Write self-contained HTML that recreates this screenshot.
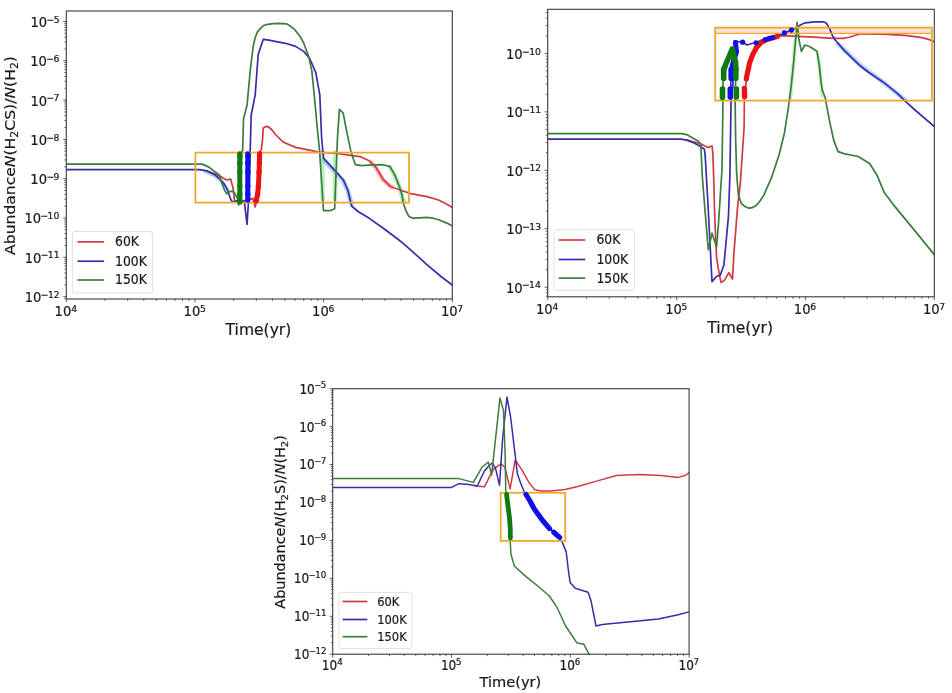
<!DOCTYPE html><html><head><meta charset="utf-8"><style>html,body{margin:0;padding:0;background:#fff;width:952px;height:693px;overflow:hidden}text{stroke:#1a1a1a;stroke-width:0.22px}</style></head><body><svg width="952" height="693" viewBox="0 0 952 693" style="display:block;filter:blur(0.35px)">
<g font-family="'DejaVu Sans','Liberation Sans',sans-serif">
<rect width="952" height="693" fill="#fff"/>
<clipPath id="cp1"><rect x="66.3" y="11.0" width="386.0" height="288.0"/></clipPath>
<clipPath id="cp2"><rect x="547.7" y="9.3" width="386.5999999999999" height="287.5"/></clipPath>
<clipPath id="cp3"><rect x="332.7" y="388.7" width="356.40000000000003" height="265.50000000000006"/></clipPath>
<g clip-path="url(#cp1)">
<polyline points="205.0,171.5 214.8,175.5 222.0,181.5 227.5,190.0" fill="none" stroke="#5aa0ff" stroke-width="4" stroke-opacity="0.45" stroke-linejoin="round" stroke-linecap="round"/>
<polyline points="323.5,160.0 333.8,170.5 343.2,180.5 347.8,191.0 351.6,204.0" fill="none" stroke="#5aa0ff" stroke-width="4.5" stroke-opacity="0.5" stroke-linejoin="round" stroke-linecap="round"/>
<polyline points="322.5,152.0 322.5,200.0" fill="none" stroke="#6ee06e" stroke-width="4.5" stroke-opacity="0.45" stroke-linejoin="round" stroke-linecap="round"/>
<polyline points="335.1,152.0 335.1,200.0" fill="none" stroke="#6ee06e" stroke-width="4.5" stroke-opacity="0.45" stroke-linejoin="round" stroke-linecap="round"/>
<polyline points="371.0,162.0 376.2,168.5 383.1,180.0 392.0,187.5" fill="none" stroke="#ff7070" stroke-width="4.5" stroke-opacity="0.45" stroke-linejoin="round" stroke-linecap="round"/>
<polyline points="390.0,167.0 394.6,175.0 399.3,186.5 403.5,202.0" fill="none" stroke="#6ee06e" stroke-width="4.5" stroke-opacity="0.5" stroke-linejoin="round" stroke-linecap="round"/>
<polyline points="206.90,170.90 214.80,174.00 219.60,176.00 226.70,180.00 230.70,179.20 233.10,188.30 234.30,199.40 235.50,201.80 240.00,202.00 246.00,201.00 252.80,198.40 255.10,206.90 257.30,199.00 258.50,175.00 259.50,152.00 261.30,150.00 262.50,140.00 263.30,128.00 266.00,126.40 268.50,126.90 272.00,130.00 275.40,134.50 283.50,142.30 295.60,147.40 305.70,149.40 318.80,152.20 337.50,153.50 350.70,155.30 360.00,156.60 369.20,160.80 376.20,167.70 383.10,179.30 390.00,186.20 399.30,189.70 410.80,193.60 427.00,196.60 438.50,200.00 445.50,203.50 452.40,207.40" fill="none" stroke="#d03a40" stroke-width="1.7" stroke-linejoin="round" stroke-linecap="round" />
<polyline points="66.30,169.60 199.80,169.70 206.90,170.90 214.80,174.80 219.60,178.80 224.40,184.40 227.50,189.90 229.90,197.10 231.50,201.00 234.70,201.80 237.10,200.60 240.00,200.50 244.30,201.00 247.00,224.50 248.90,196.00 249.50,175.00 250.20,150.00 251.20,115.00 255.20,94.80 258.20,54.40 263.30,39.30 267.30,39.90 285.50,43.30 295.60,46.40 303.70,51.40 309.70,58.50 315.80,72.60 319.80,94.80 321.60,137.50 323.50,158.20 333.80,169.40 343.20,179.70 347.80,190.00 351.60,206.00 358.00,211.50 368.90,218.10 383.30,228.20 397.70,239.00 404.90,244.80 412.20,251.30 426.60,264.30 441.00,276.50 452.60,285.20" fill="none" stroke="#3a2aac" stroke-width="1.7" stroke-linejoin="round" stroke-linecap="round" />
<polyline points="66.30,164.10 202.10,164.10 208.50,166.90 214.80,171.70 219.60,175.20 221.20,181.20 224.40,189.90 226.70,193.90 229.90,191.50 232.30,191.10 234.70,193.10 237.90,199.40 238.50,205.00 240.00,200.00 241.70,152.00 242.70,150.00 243.50,119.10 247.10,105.00 250.20,70.60 253.20,46.40 255.30,37.30 257.40,32.10 259.50,29.40 263.10,25.80 267.30,24.40 273.60,23.70 278.90,23.40 286.80,23.90 289.90,25.80 294.60,29.40 300.00,36.30 303.70,43.00 308.70,56.50 311.80,70.60 314.80,100.90 316.90,124.40 319.50,150.00 321.50,180.00 323.50,210.70 330.00,210.70 334.70,208.80 335.60,184.40 337.50,137.50 339.40,109.40 343.20,113.10 346.00,128.10 350.70,150.70 355.30,164.70 361.90,165.70 371.50,164.90 383.10,164.70 390.00,166.60 394.60,174.60 399.30,186.20 402.00,195.00 403.50,203.70 406.00,211.00 409.00,216.50 412.20,218.10 420.00,217.80 426.60,217.40 433.00,218.20 438.10,219.50 446.80,223.10 452.60,226.00" fill="none" stroke="#3a7d3e" stroke-width="1.7" stroke-linejoin="round" stroke-linecap="round" />
<rect x="195.4" y="152.6" width="213.6" height="50.0" fill="none" stroke="#f0a830" stroke-width="1.8"/>
<polyline points="239.8,153.8 239.8,202.3" fill="none" stroke="#0f7a0f" stroke-width="5.0" stroke-opacity="1" stroke-linejoin="round" stroke-linecap="round"/>
<circle cx="239.8" cy="156.0" r="2.7" fill="#0f7a0f"/><circle cx="239.8" cy="163.0" r="2.7" fill="#0f7a0f"/><circle cx="239.8" cy="172.0" r="2.7" fill="#0f7a0f"/><circle cx="239.8" cy="186.0" r="2.7" fill="#0f7a0f"/><circle cx="239.8" cy="194.0" r="2.7" fill="#0f7a0f"/><circle cx="240.0" cy="201.0" r="2.7" fill="#0f7a0f"/>
<polyline points="247.8,153.8 247.8,200.3" fill="none" stroke="#1010e8" stroke-width="5.0" stroke-opacity="1" stroke-linejoin="round" stroke-linecap="round"/>
<circle cx="247.8" cy="156.0" r="2.7" fill="#1010e8"/><circle cx="247.8" cy="163.0" r="2.7" fill="#1010e8"/><circle cx="247.8" cy="172.0" r="2.7" fill="#1010e8"/><circle cx="247.8" cy="186.0" r="2.7" fill="#1010e8"/><circle cx="247.8" cy="194.0" r="2.7" fill="#1010e8"/><circle cx="247.8" cy="199.0" r="2.7" fill="#1010e8"/>
<polyline points="259.6,153.5 259.2,170.0 258.3,188.0 257.3,196.0 256.0,201.0" fill="none" stroke="#ee1111" stroke-width="5.0" stroke-opacity="1" stroke-linejoin="round" stroke-linecap="round"/>
<circle cx="259.5" cy="156.0" r="2.7" fill="#ee1111"/><circle cx="259.4" cy="163.0" r="2.7" fill="#ee1111"/><circle cx="259.0" cy="172.0" r="2.7" fill="#ee1111"/><circle cx="258.4" cy="186.0" r="2.7" fill="#ee1111"/><circle cx="257.6" cy="194.0" r="2.7" fill="#ee1111"/><circle cx="256.3" cy="200.0" r="2.7" fill="#ee1111"/>
</g>
<g clip-path="url(#cp2)">
<polyline points="838.0,44.0 860.0,65.0 883.0,82.0 905.0,100.0" fill="none" stroke="#5aa0ff" stroke-width="4.5" stroke-opacity="0.45" stroke-linejoin="round" stroke-linecap="round"/>
<polyline points="790.0,100.0 793.5,62.0 796.0,30.0" fill="none" stroke="#6ee06e" stroke-width="4" stroke-opacity="0.4" stroke-linejoin="round" stroke-linecap="round"/>
<polyline points="818.0,55.0 820.8,80.0 822.2,96.0" fill="none" stroke="#6ee06e" stroke-width="4" stroke-opacity="0.4" stroke-linejoin="round" stroke-linecap="round"/>
<rect x="715.2" y="27.6" width="216.7" height="5.8" fill="#fbd9c8" fill-opacity="0.8"/>
<polyline points="686.80,140.10 688.20,140.40 697.80,143.00 702.90,144.90 708.10,147.40 712.10,146.00 712.90,154.40 713.60,175.00 714.70,215.80 716.60,257.90 719.30,274.40 721.10,282.60 724.80,279.90 728.80,272.60 732.50,279.00 734.00,252.40 737.60,206.60 740.30,183.80 744.10,127.50 744.40,97.00 745.50,87.40 746.70,78.10 748.40,68.90 749.50,63.10 753.00,53.90 756.50,47.50 761.10,42.30 766.90,39.40 777.30,36.50 784.20,35.60 797.30,36.30 814.60,37.20 832.00,38.30 843.50,38.30 850.00,37.00 860.20,33.80 883.30,34.20 904.90,35.30 920.80,37.40 929.50,39.60 934.30,41.70" fill="none" stroke="#d03a40" stroke-width="1.7" stroke-linejoin="round" stroke-linecap="round" />
<polyline points="547.70,139.10 680.90,139.10 686.80,140.10 694.10,143.00 701.50,147.10 704.40,149.30 705.10,154.40 706.30,175.00 708.30,210.30 712.00,281.70 716.60,276.20 720.20,275.30 723.90,265.20 728.50,215.80 729.90,175.00 731.10,98.50 730.50,68.00 733.00,55.00 735.70,43.90 737.00,41.50 742.60,42.00 747.00,45.00 752.00,43.50 755.90,42.60 764.60,39.40 769.20,38.30 775.00,37.10 784.20,33.10 791.10,30.20 797.30,27.10 800.80,24.70 805.40,22.80 814.60,21.90 823.90,21.90 826.20,23.00 829.70,28.80 832.50,35.70 835.40,40.30 843.50,49.60 851.60,57.70 860.00,65.70 868.90,72.50 883.30,82.20 897.70,93.70 904.90,100.90 915.00,110.00 935.00,127.20" fill="none" stroke="#3a2aac" stroke-width="1.7" stroke-linejoin="round" stroke-linecap="round" />
<polyline points="547.70,133.70 681.60,133.70 686.80,134.60 692.60,137.90 698.50,141.20 700.70,144.10 701.10,150.70 702.20,175.00 704.70,206.60 708.30,249.70 712.00,233.20 716.60,246.90 718.40,224.90 721.10,182.80 722.00,170.00 723.00,98.50 723.00,68.00 725.90,63.50 732.20,50.80 735.10,68.10 735.70,78.50 735.10,98.50 735.60,136.90 736.60,172.60 738.40,195.10 741.30,203.50 745.00,206.50 748.80,208.20 752.50,207.60 756.30,205.40 760.00,201.00 763.80,195.10 771.30,178.20 778.80,155.70 784.40,133.20 788.20,108.80 791.00,88.00 793.90,60.00 797.10,22.40 799.10,40.30 801.40,51.30 804.80,45.00 810.00,46.70 817.00,51.30 819.30,65.70 820.80,80.00 822.20,90.00 825.10,97.30 829.40,120.40 833.80,140.60 838.10,151.60 843.90,153.60 858.30,156.50 869.80,163.70 877.00,175.20 884.30,192.60 892.90,204.10 913.10,228.60 934.30,254.60" fill="none" stroke="#3a7d3e" stroke-width="1.7" stroke-linejoin="round" stroke-linecap="round" />
<rect x="715.2" y="27.6" width="216.7" height="73.0" fill="none" stroke="#f0a830" stroke-width="1.8"/>
<path d="M715.2 33.4H931.9" stroke="#f0a830" stroke-width="1.3" fill="none"/>
<polyline points="744.4,88.5 744.6,96.5" fill="none" stroke="#ee1111" stroke-width="5.4" stroke-opacity="1" stroke-linejoin="round" stroke-linecap="round"/>
<polyline points="746.3,79.0 747.2,74.0 748.4,68.9 749.5,63.1 753.0,53.9 756.5,47.5 761.1,42.3 766.9,39.4 777.3,36.5" fill="none" stroke="#ee1111" stroke-width="5.2" stroke-opacity="1" stroke-linejoin="round" stroke-linecap="round"/>
<polyline points="730.3,89.0 730.3,97.0" fill="none" stroke="#1010e8" stroke-width="5.6" stroke-opacity="1" stroke-linejoin="round" stroke-linecap="round"/>
<polyline points="731.2,69.5 731.2,78.5" fill="none" stroke="#1010e8" stroke-width="5.6" stroke-opacity="1" stroke-linejoin="round" stroke-linecap="round"/>
<polyline points="731.2,70.0 734.0,60.0 736.5,52.0 735.5,42.5" fill="none" stroke="#1010e8" stroke-width="5.0" stroke-opacity="1" stroke-linejoin="round" stroke-linecap="round"/>
<polyline points="732.9,80.0 732.9,88.0" fill="none" stroke="#1010e8" stroke-width="1.6" stroke-opacity="1" stroke-linejoin="round" stroke-linecap="round"/>
<circle cx="735.5" cy="42.5" r="2.6" fill="#1010e8"/><circle cx="742.6" cy="42.2" r="2.6" fill="#1010e8"/><circle cx="756.1" cy="42.8" r="2.6" fill="#1010e8"/><circle cx="765.2" cy="39.5" r="2.6" fill="#1010e8"/><circle cx="769.2" cy="38.4" r="2.6" fill="#1010e8"/><circle cx="772.5" cy="37.5" r="2.6" fill="#1010e8"/><circle cx="784.4" cy="32.9" r="2.6" fill="#1010e8"/><circle cx="791.4" cy="30.1" r="2.6" fill="#1010e8"/>
<polyline points="722.5,89.0 722.5,97.5" fill="none" stroke="#0f7a0f" stroke-width="5.6" stroke-opacity="1" stroke-linejoin="round" stroke-linecap="round"/>
<polyline points="723.7,69.0 723.7,78.5" fill="none" stroke="#0f7a0f" stroke-width="5.6" stroke-opacity="1" stroke-linejoin="round" stroke-linecap="round"/>
<polyline points="723.7,70.0 725.9,64.0 732.3,49.0 735.5,62.0 735.8,69.0" fill="none" stroke="#0f7a0f" stroke-width="5.6" stroke-opacity="1" stroke-linejoin="round" stroke-linecap="round"/>
<polyline points="735.8,69.0 735.8,78.5" fill="none" stroke="#0f7a0f" stroke-width="5.6" stroke-opacity="1" stroke-linejoin="round" stroke-linecap="round"/>
<polyline points="736.4,89.0 736.4,97.0" fill="none" stroke="#0f7a0f" stroke-width="5.6" stroke-opacity="1" stroke-linejoin="round" stroke-linecap="round"/>
</g>
<g clip-path="url(#cp3)">
<polyline points="474.00,485.40 477.30,486.00 484.40,486.80 489.20,477.30 494.00,468.60 501.10,463.80 505.10,467.80 510.10,488.90 515.20,460.10 521.60,469.40 528.90,482.40 534.60,489.60 540.40,491.10 550.50,491.10 564.90,489.60 576.90,486.70 596.60,481.10 616.30,475.50 638.80,474.60 661.30,475.50 678.20,477.40 685.20,475.50 689.10,472.70" fill="none" stroke="#d03a40" stroke-width="1.5" stroke-linejoin="round" stroke-linecap="round" />
<polyline points="332.70,487.60 451.10,487.60 459.00,483.70 468.60,484.40 477.30,486.00 484.40,471.00 489.20,465.40 492.40,463.00 495.60,468.60 499.50,485.20 502.70,437.60 507.00,397.10 510.60,417.00 514.60,450.30 517.40,474.00 521.00,484.00 524.50,492.50 526.00,494.70 531.70,504.10 539.00,514.20 549.10,527.90 554.80,533.60 559.20,538.40 562.00,541.60 566.20,551.90 568.20,568.80 570.10,582.40 575.30,588.20 588.10,592.20 591.00,600.70 596.00,626.00 602.20,624.60 630.30,621.80 658.50,619.00 678.20,614.80 689.10,611.90" fill="none" stroke="#3a2aac" stroke-width="1.5" stroke-linejoin="round" stroke-linecap="round" />
<polyline points="332.70,478.60 459.00,478.60 473.30,482.40 478.10,474.10 482.10,467.00 488.40,462.20 491.60,474.90 494.80,445.60 500.00,397.90 503.50,410.60 505.10,453.50 505.80,492.50 506.50,494.00 507.90,505.50 509.40,517.00 510.10,527.20 510.10,540.20 511.00,554.50 514.50,566.20 526.00,576.60 539.00,587.00 549.40,596.00 557.10,607.70 561.00,616.00 565.60,626.00 571.30,634.50 576.90,642.90 583.90,644.30 589.50,655.00" fill="none" stroke="#3a7d3e" stroke-width="1.5" stroke-linejoin="round" stroke-linecap="round" />
<rect x="500.7" y="492.8" width="64.5" height="48.1" fill="none" stroke="#f0a830" stroke-width="1.8"/>
<polyline points="506.6,494.5 507.9,505.5 509.4,517.0 510.2,527.2 510.4,538.0" fill="none" stroke="#0f7a0f" stroke-width="4.8" stroke-opacity="1" stroke-linejoin="round" stroke-linecap="round"/>
<polyline points="526.0,494.5 530.0,501.0 534.3,509.0 539.0,515.5 543.0,521.0 549.6,528.6" fill="none" stroke="#1010e8" stroke-width="5.2" stroke-opacity="1" stroke-linejoin="round" stroke-linecap="round"/>
<polyline points="553.8,532.3 556.8,535.0 559.6,537.4" fill="none" stroke="#1010e8" stroke-width="5.2" stroke-opacity="1" stroke-linejoin="round" stroke-linecap="round"/>
</g>
<path d="M66.30 299.00v3.3M105.03 299.00v1.9M127.69 299.00v1.9M143.77 299.00v1.9M156.23 299.00v1.9M166.42 299.00v1.9M175.04 299.00v1.9M182.50 299.00v1.9M189.08 299.00v1.9M194.97 299.00v3.3M233.70 299.00v1.9M256.36 299.00v1.9M272.43 299.00v1.9M284.90 299.00v1.9M295.09 299.00v1.9M303.70 299.00v1.9M311.16 299.00v1.9M317.75 299.00v1.9M323.63 299.00v3.3M362.37 299.00v1.9M385.02 299.00v1.9M401.10 299.00v1.9M413.57 299.00v1.9M423.76 299.00v1.9M432.37 299.00v1.9M439.83 299.00v1.9M446.41 299.00v1.9M452.30 299.00v3.3M66.30 298.40h-1.9M66.30 296.60h-3.1M66.30 284.77h-1.9M66.30 277.85h-1.9M66.30 272.94h-1.9M66.30 269.13h-1.9M66.30 266.02h-1.9M66.30 263.39h-1.9M66.30 261.11h-1.9M66.30 259.10h-1.9M66.30 257.30h-3.1M66.30 245.47h-1.9M66.30 238.55h-1.9M66.30 233.64h-1.9M66.30 229.83h-1.9M66.30 226.72h-1.9M66.30 224.09h-1.9M66.30 221.81h-1.9M66.30 219.80h-1.9M66.30 218.00h-3.1M66.30 206.17h-1.9M66.30 199.25h-1.9M66.30 194.34h-1.9M66.30 190.53h-1.9M66.30 187.42h-1.9M66.30 184.79h-1.9M66.30 182.51h-1.9M66.30 180.50h-1.9M66.30 178.70h-3.1M66.30 166.87h-1.9M66.30 159.95h-1.9M66.30 155.04h-1.9M66.30 151.23h-1.9M66.30 148.12h-1.9M66.30 145.49h-1.9M66.30 143.21h-1.9M66.30 141.20h-1.9M66.30 139.40h-3.1M66.30 127.57h-1.9M66.30 120.65h-1.9M66.30 115.74h-1.9M66.30 111.93h-1.9M66.30 108.82h-1.9M66.30 106.19h-1.9M66.30 103.91h-1.9M66.30 101.90h-1.9M66.30 100.10h-3.1M66.30 88.27h-1.9M66.30 81.35h-1.9M66.30 76.44h-1.9M66.30 72.63h-1.9M66.30 69.52h-1.9M66.30 66.89h-1.9M66.30 64.61h-1.9M66.30 62.60h-1.9M66.30 60.80h-3.1M66.30 48.97h-1.9M66.30 42.05h-1.9M66.30 37.14h-1.9M66.30 33.33h-1.9M66.30 30.22h-1.9M66.30 27.59h-1.9M66.30 25.31h-1.9M66.30 23.30h-1.9M66.30 21.50h-3.1" stroke="#444" stroke-width="0.85" fill="none"/>
<rect x="66.30" y="11.00" width="386.00" height="288.00" fill="none" stroke="#3a3a3a" stroke-width="1.1"/>
<path d="M547.70 296.80v3.3M586.49 296.80v1.9M609.19 296.80v1.9M625.29 296.80v1.9M637.77 296.80v1.9M647.98 296.80v1.9M656.60 296.80v1.9M664.08 296.80v1.9M670.67 296.80v1.9M676.57 296.80v3.3M715.36 296.80v1.9M738.05 296.80v1.9M754.15 296.80v1.9M766.64 296.80v1.9M776.84 296.80v1.9M785.47 296.80v1.9M792.94 296.80v1.9M799.54 296.80v1.9M805.43 296.80v3.3M844.23 296.80v1.9M866.92 296.80v1.9M883.02 296.80v1.9M895.51 296.80v1.9M905.71 296.80v1.9M914.34 296.80v1.9M921.81 296.80v1.9M928.40 296.80v1.9M934.30 296.80v3.3M547.70 296.25h-1.9M547.70 292.86h-1.9M547.70 289.87h-1.9M547.70 287.20h-3.1M547.70 269.60h-1.9M547.70 259.31h-1.9M547.70 252.01h-1.9M547.70 246.35h-1.9M547.70 241.72h-1.9M547.70 237.80h-1.9M547.70 234.41h-1.9M547.70 231.42h-1.9M547.70 228.75h-3.1M547.70 211.15h-1.9M547.70 200.86h-1.9M547.70 193.56h-1.9M547.70 187.90h-1.9M547.70 183.27h-1.9M547.70 179.35h-1.9M547.70 175.96h-1.9M547.70 172.97h-1.9M547.70 170.30h-3.1M547.70 152.70h-1.9M547.70 142.41h-1.9M547.70 135.11h-1.9M547.70 129.45h-1.9M547.70 124.82h-1.9M547.70 120.90h-1.9M547.70 117.51h-1.9M547.70 114.52h-1.9M547.70 111.85h-3.1M547.70 94.25h-1.9M547.70 83.96h-1.9M547.70 76.66h-1.9M547.70 71.00h-1.9M547.70 66.37h-1.9M547.70 62.45h-1.9M547.70 59.06h-1.9M547.70 56.07h-1.9M547.70 53.40h-3.1M547.70 35.80h-1.9M547.70 25.51h-1.9M547.70 18.21h-1.9M547.70 12.55h-1.9" stroke="#444" stroke-width="0.85" fill="none"/>
<rect x="547.70" y="9.30" width="386.60" height="287.50" fill="none" stroke="#3a3a3a" stroke-width="1.1"/>
<path d="M332.70 654.20v3.3M368.46 654.20v1.9M389.38 654.20v1.9M404.22 654.20v1.9M415.74 654.20v1.9M425.14 654.20v1.9M433.10 654.20v1.9M439.99 654.20v1.9M446.06 654.20v1.9M451.50 654.20v3.3M487.26 654.20v1.9M508.18 654.20v1.9M523.02 654.20v1.9M534.54 654.20v1.9M543.94 654.20v1.9M551.90 654.20v1.9M558.79 654.20v1.9M564.86 654.20v1.9M570.30 654.20v3.3M606.06 654.20v1.9M626.98 654.20v1.9M641.82 654.20v1.9M653.34 654.20v1.9M662.74 654.20v1.9M670.70 654.20v1.9M677.59 654.20v1.9M683.66 654.20v1.9M689.10 654.20v3.3M332.70 654.21h-3.1M332.70 642.79h-1.9M332.70 636.11h-1.9M332.70 631.37h-1.9M332.70 627.70h-1.9M332.70 624.69h-1.9M332.70 622.16h-1.9M332.70 619.96h-1.9M332.70 618.02h-1.9M332.70 616.28h-3.1M332.70 604.86h-1.9M332.70 598.18h-1.9M332.70 593.44h-1.9M332.70 589.77h-1.9M332.70 586.76h-1.9M332.70 584.23h-1.9M332.70 582.03h-1.9M332.70 580.09h-1.9M332.70 578.35h-3.1M332.70 566.93h-1.9M332.70 560.25h-1.9M332.70 555.51h-1.9M332.70 551.84h-1.9M332.70 548.83h-1.9M332.70 546.30h-1.9M332.70 544.10h-1.9M332.70 542.16h-1.9M332.70 540.42h-3.1M332.70 529.00h-1.9M332.70 522.32h-1.9M332.70 517.58h-1.9M332.70 513.91h-1.9M332.70 510.90h-1.9M332.70 508.37h-1.9M332.70 506.17h-1.9M332.70 504.23h-1.9M332.70 502.49h-3.1M332.70 491.07h-1.9M332.70 484.39h-1.9M332.70 479.65h-1.9M332.70 475.98h-1.9M332.70 472.97h-1.9M332.70 470.44h-1.9M332.70 468.24h-1.9M332.70 466.30h-1.9M332.70 464.56h-3.1M332.70 453.14h-1.9M332.70 446.46h-1.9M332.70 441.72h-1.9M332.70 438.05h-1.9M332.70 435.04h-1.9M332.70 432.51h-1.9M332.70 430.31h-1.9M332.70 428.37h-1.9M332.70 426.63h-3.1M332.70 415.21h-1.9M332.70 408.53h-1.9M332.70 403.79h-1.9M332.70 400.12h-1.9M332.70 397.11h-1.9M332.70 394.58h-1.9M332.70 392.38h-1.9M332.70 390.44h-1.9M332.70 388.70h-3.1" stroke="#444" stroke-width="0.85" fill="none"/>
<rect x="332.70" y="388.70" width="356.40" height="265.50" fill="none" stroke="#3a3a3a" stroke-width="1.1"/>
<text transform="translate(54.61 316.40) scale(0.9 1)" font-size="14.6" fill="#1a1a1a">10</text>
<text transform="translate(71.21 312.05) scale(1 1.0)" font-size="9.2" fill="#1a1a1a">4</text>
<text transform="translate(183.55 316.40) scale(0.9 1)" font-size="14.6" fill="#1a1a1a">10</text>
<text transform="translate(199.89 312.05) scale(1 1.0)" font-size="9.2" fill="#1a1a1a">5</text>
<text transform="translate(312.07 316.40) scale(0.9 1)" font-size="14.6" fill="#1a1a1a">10</text>
<text transform="translate(328.48 312.05) scale(1 1.0)" font-size="9.2" fill="#1a1a1a">6</text>
<text transform="translate(440.90 316.40) scale(0.9 1)" font-size="14.6" fill="#1a1a1a">10</text>
<text transform="translate(457.19 312.05) scale(1 1.0)" font-size="9.2" fill="#1a1a1a">7</text>
<text transform="translate(24.74 302.05) scale(0.9 1)" font-size="14.6" fill="#1a1a1a">10</text>
<text transform="translate(40.81 297.70) scale(1 1.0)" font-size="9.2" fill="#1a1a1a">−<tspan dx="-0.6">12</tspan></text>
<text transform="translate(24.66 262.75) scale(0.9 1)" font-size="14.6" fill="#1a1a1a">10</text>
<text transform="translate(40.73 258.40) scale(1 1.0)" font-size="9.2" fill="#1a1a1a">−<tspan dx="-0.6">11</tspan></text>
<text transform="translate(24.42 223.45) scale(0.9 1)" font-size="14.6" fill="#1a1a1a">10</text>
<text transform="translate(40.50 219.10) scale(1 1.0)" font-size="9.2" fill="#1a1a1a">−<tspan dx="-0.6">10</tspan></text>
<text transform="translate(30.31 184.15) scale(0.9 1)" font-size="14.6" fill="#1a1a1a">10</text>
<text transform="translate(46.38 179.80) scale(1 1.0)" font-size="9.2" fill="#1a1a1a">−<tspan dx="-0.6">9</tspan></text>
<text transform="translate(30.29 144.85) scale(0.9 1)" font-size="14.6" fill="#1a1a1a">10</text>
<text transform="translate(46.36 140.50) scale(1 1.0)" font-size="9.2" fill="#1a1a1a">−<tspan dx="-0.6">8</tspan></text>
<text transform="translate(30.45 105.55) scale(0.9 1)" font-size="14.6" fill="#1a1a1a">10</text>
<text transform="translate(46.52 101.20) scale(1 1.0)" font-size="9.2" fill="#1a1a1a">−<tspan dx="-0.6">7</tspan></text>
<text transform="translate(30.25 66.25) scale(0.9 1)" font-size="14.6" fill="#1a1a1a">10</text>
<text transform="translate(46.32 61.90) scale(1 1.0)" font-size="9.2" fill="#1a1a1a">−<tspan dx="-0.6">6</tspan></text>
<text transform="translate(30.47 26.95) scale(0.9 1)" font-size="14.6" fill="#1a1a1a">10</text>
<text transform="translate(46.54 22.60) scale(1 1.0)" font-size="9.2" fill="#1a1a1a">−<tspan dx="-0.6">5</tspan></text>
<text transform="translate(536.01 314.30) scale(0.9 1)" font-size="14.6" fill="#1a1a1a">10</text>
<text transform="translate(552.61 309.95) scale(1 1.0)" font-size="9.2" fill="#1a1a1a">4</text>
<text transform="translate(665.15 314.30) scale(0.9 1)" font-size="14.6" fill="#1a1a1a">10</text>
<text transform="translate(681.49 309.95) scale(1 1.0)" font-size="9.2" fill="#1a1a1a">5</text>
<text transform="translate(793.87 314.30) scale(0.9 1)" font-size="14.6" fill="#1a1a1a">10</text>
<text transform="translate(810.28 309.95) scale(1 1.0)" font-size="9.2" fill="#1a1a1a">6</text>
<text transform="translate(922.90 314.30) scale(0.9 1)" font-size="14.6" fill="#1a1a1a">10</text>
<text transform="translate(939.19 309.95) scale(1 1.0)" font-size="9.2" fill="#1a1a1a">7</text>
<text transform="translate(505.93 292.65) scale(0.9 1)" font-size="14.6" fill="#1a1a1a">10</text>
<text transform="translate(522.00 288.30) scale(1 1.0)" font-size="9.2" fill="#1a1a1a">−<tspan dx="-0.6">14</tspan></text>
<text transform="translate(506.15 234.20) scale(0.9 1)" font-size="14.6" fill="#1a1a1a">10</text>
<text transform="translate(522.22 229.85) scale(1 1.0)" font-size="9.2" fill="#1a1a1a">−<tspan dx="-0.6">13</tspan></text>
<text transform="translate(506.34 175.75) scale(0.9 1)" font-size="14.6" fill="#1a1a1a">10</text>
<text transform="translate(522.41 171.40) scale(1 1.0)" font-size="9.2" fill="#1a1a1a">−<tspan dx="-0.6">12</tspan></text>
<text transform="translate(506.26 117.30) scale(0.9 1)" font-size="14.6" fill="#1a1a1a">10</text>
<text transform="translate(522.33 112.95) scale(1 1.0)" font-size="9.2" fill="#1a1a1a">−<tspan dx="-0.6">11</tspan></text>
<text transform="translate(506.02 58.85) scale(0.9 1)" font-size="14.6" fill="#1a1a1a">10</text>
<text transform="translate(522.10 54.50) scale(1 1.0)" font-size="9.2" fill="#1a1a1a">−<tspan dx="-0.6">10</tspan></text>
<text transform="translate(321.85 669.80) scale(0.89 1)" font-size="13.6" fill="#1a1a1a">10</text>
<text transform="translate(337.23 664.60) scale(1 1.0)" font-size="8.6" fill="#1a1a1a">4</text>
<text transform="translate(440.91 669.80) scale(0.89 1)" font-size="13.6" fill="#1a1a1a">10</text>
<text transform="translate(456.04 664.60) scale(1 1.0)" font-size="8.6" fill="#1a1a1a">5</text>
<text transform="translate(559.57 669.80) scale(0.89 1)" font-size="13.6" fill="#1a1a1a">10</text>
<text transform="translate(574.77 664.60) scale(1 1.0)" font-size="8.6" fill="#1a1a1a">6</text>
<text transform="translate(678.52 669.80) scale(0.89 1)" font-size="13.6" fill="#1a1a1a">10</text>
<text transform="translate(693.61 664.60) scale(1 1.0)" font-size="8.6" fill="#1a1a1a">7</text>
<text transform="translate(294.03 659.11) scale(0.89 1)" font-size="13.6" fill="#1a1a1a">10</text>
<text transform="translate(308.91 653.91) scale(1 1.0)" font-size="8.6" fill="#1a1a1a">−<tspan dx="-0.6">12</tspan></text>
<text transform="translate(293.96 621.18) scale(0.89 1)" font-size="13.6" fill="#1a1a1a">10</text>
<text transform="translate(308.85 615.98) scale(1 1.0)" font-size="8.6" fill="#1a1a1a">−<tspan dx="-0.6">11</tspan></text>
<text transform="translate(293.74 583.25) scale(0.89 1)" font-size="13.6" fill="#1a1a1a">10</text>
<text transform="translate(308.62 578.05) scale(1 1.0)" font-size="8.6" fill="#1a1a1a">−<tspan dx="-0.6">10</tspan></text>
<text transform="translate(299.24 545.32) scale(0.89 1)" font-size="13.6" fill="#1a1a1a">10</text>
<text transform="translate(314.13 540.12) scale(1 1.0)" font-size="8.6" fill="#1a1a1a">−<tspan dx="-0.6">9</tspan></text>
<text transform="translate(299.22 507.39) scale(0.89 1)" font-size="13.6" fill="#1a1a1a">10</text>
<text transform="translate(314.11 502.19) scale(1 1.0)" font-size="8.6" fill="#1a1a1a">−<tspan dx="-0.6">8</tspan></text>
<text transform="translate(299.37 469.46) scale(0.89 1)" font-size="13.6" fill="#1a1a1a">10</text>
<text transform="translate(314.25 464.26) scale(1 1.0)" font-size="8.6" fill="#1a1a1a">−<tspan dx="-0.6">7</tspan></text>
<text transform="translate(299.18 431.53) scale(0.89 1)" font-size="13.6" fill="#1a1a1a">10</text>
<text transform="translate(314.07 426.33) scale(1 1.0)" font-size="8.6" fill="#1a1a1a">−<tspan dx="-0.6">6</tspan></text>
<text transform="translate(299.39 393.60) scale(0.89 1)" font-size="13.6" fill="#1a1a1a">10</text>
<text transform="translate(314.27 388.40) scale(1 1.0)" font-size="8.6" fill="#1a1a1a">−<tspan dx="-0.6">5</tspan></text>
<text transform="translate(258.45 335.2) scale(0.96 1)" font-size="16.2" text-anchor="middle" fill="#1a1a1a">Time(yr)</text>
<text transform="translate(740.2 332.6) scale(0.96 1)" font-size="16.2" text-anchor="middle" fill="#1a1a1a">Time(yr)</text>
<text transform="translate(510.4 686.9) scale(1.0 1)" font-size="14.6" text-anchor="middle" fill="#1a1a1a">Time(yr)</text>
<text transform="translate(14.9 155.5) scale(0.89 1) rotate(-90)" font-size="15.6" text-anchor="middle" fill="#1a1a1a">Abundance<tspan font-style="italic">N</tspan>(H<tspan font-size="10.92" dy="3">2</tspan><tspan dy="-3">CS)/</tspan><tspan font-style="italic">N</tspan>(H<tspan font-size="10.92" dy="3">2</tspan><tspan dy="-3">)</tspan></text>
<text transform="translate(285.3 521.9) scale(0.94 1) rotate(-90)" font-size="14.4" text-anchor="middle" fill="#1a1a1a">Abundance<tspan font-style="italic">N</tspan>(H<tspan font-size="10.08" dy="3">2</tspan><tspan dy="-3">S)/</tspan><tspan font-style="italic">N</tspan>(H<tspan font-size="10.08" dy="3">2</tspan><tspan dy="-3">)</tspan></text>
<rect x="72.4" y="231.5" width="80.2" height="61.5" rx="2.5" fill="#fff" fill-opacity="0.8" stroke="#ddd" stroke-width="0.9"/>
<path d="M77.5 241.9H104.1" stroke="#d03a40" stroke-width="1.7"/>
<text transform="translate(115.0 246.30) scale(0.935 1)" font-size="13.3" fill="#1a1a1a">60K</text>
<path d="M77.5 261.2H104.1" stroke="#3a2aac" stroke-width="1.7"/>
<text transform="translate(115.0 265.60) scale(0.935 1)" font-size="13.3" fill="#1a1a1a">100K</text>
<path d="M77.5 280.0H104.1" stroke="#3a7d3e" stroke-width="1.7"/>
<text transform="translate(115.0 284.40) scale(0.935 1)" font-size="13.3" fill="#1a1a1a">150K</text>
<rect x="554" y="229.8" width="80.5" height="60.4" rx="2.5" fill="#fff" fill-opacity="0.8" stroke="#ddd" stroke-width="0.9"/>
<path d="M558.6 240.0H585.2" stroke="#d03a40" stroke-width="1.7"/>
<text transform="translate(596.4 244.40) scale(0.935 1)" font-size="13.3" fill="#1a1a1a">60K</text>
<path d="M558.6 259.5H585.2" stroke="#3a2aac" stroke-width="1.7"/>
<text transform="translate(596.4 263.90) scale(0.935 1)" font-size="13.3" fill="#1a1a1a">100K</text>
<path d="M558.6 278.1H585.2" stroke="#3a7d3e" stroke-width="1.7"/>
<text transform="translate(596.4 282.50) scale(0.935 1)" font-size="13.3" fill="#1a1a1a">150K</text>
<rect x="338.9" y="592.4" width="73" height="56.2" rx="2.5" fill="#fff" fill-opacity="0.8" stroke="#ddd" stroke-width="0.9"/>
<path d="M342.6 601.5H367.3" stroke="#d03a40" stroke-width="1.7"/>
<text transform="translate(377.2 605.70) scale(0.9 1)" font-size="12.8" fill="#1a1a1a">60K</text>
<path d="M342.6 619.5H367.3" stroke="#3a2aac" stroke-width="1.7"/>
<text transform="translate(377.2 623.70) scale(0.9 1)" font-size="12.8" fill="#1a1a1a">100K</text>
<path d="M342.6 636.7H367.3" stroke="#3a7d3e" stroke-width="1.7"/>
<text transform="translate(377.2 640.90) scale(0.9 1)" font-size="12.8" fill="#1a1a1a">150K</text>
</g></svg></body></html>
